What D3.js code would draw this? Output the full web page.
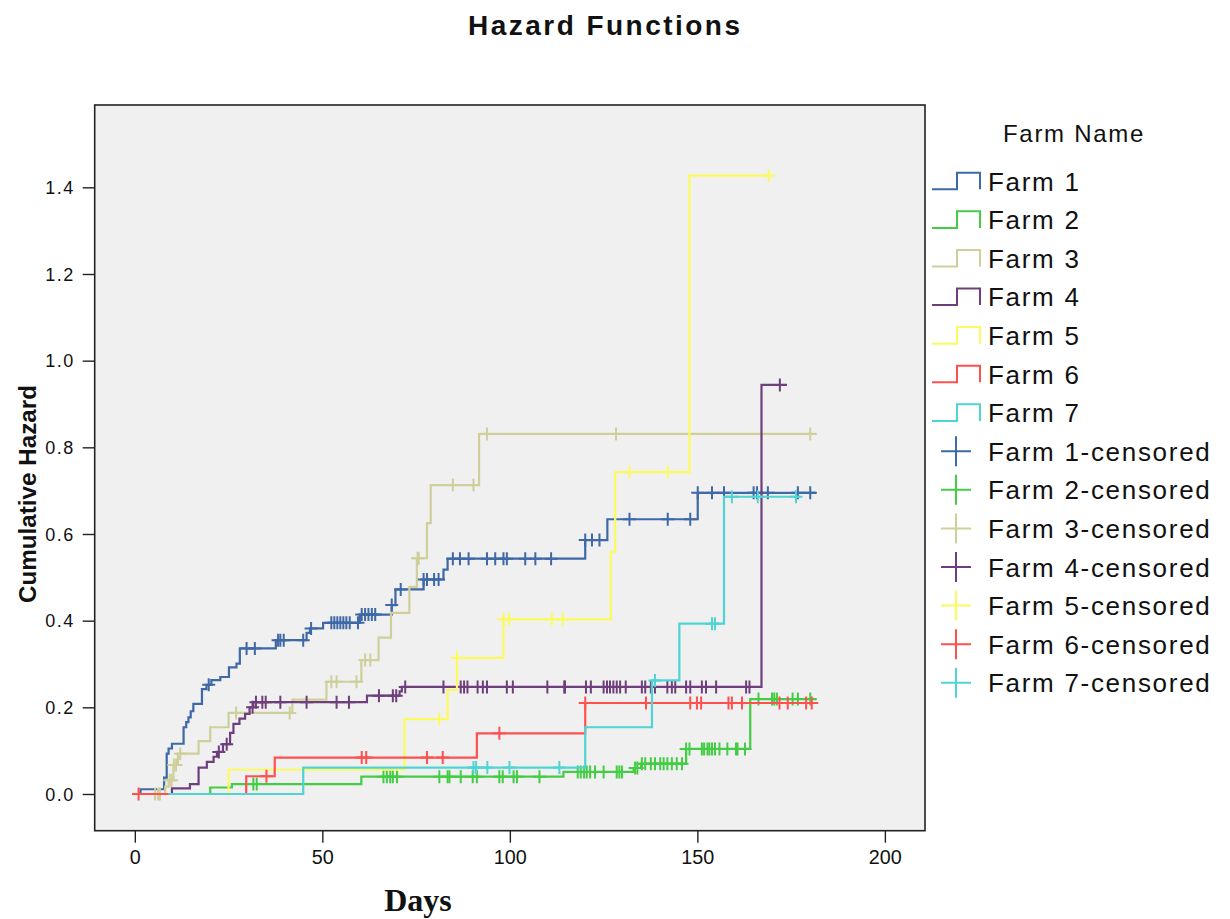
<!DOCTYPE html>
<html>
<head>
<meta charset="utf-8">
<script src="https://cdn.jsdelivr.net/npm/d3@7"></script>
<style>
  html, body { margin: 0; padding: 0; background: #ffffff; }
  svg { display: block; }
  text { font-family: "Liberation Sans", Arial, sans-serif; fill: #111; }
</style>
</head>
<body>
<svg id="chart" width="1230" height="919"></svg>
<script>
// ---------------- data ----------------
const farmNames = ["Farm 1", "Farm 2", "Farm 3", "Farm 4", "Farm 5", "Farm 6", "Farm 7"];
const farmColors = ["#3E68A6", "#44CC44", "#CFCF9C", "#6E3F7C", "#FBFB5E", "#FF5050", "#4FD3D3"];
const xTicks = [0, 50, 100, 150, 200];
const yTicks = [0.0, 0.2, 0.4, 0.6, 0.8, 1.0, 1.2, 1.4];

const startDays = [1.5, 9.0, 4.9, 9.9, 9.0, 1.0, 9.0];
const endDays   = [181.7, 181.7, 181.7, 173.9, 170.0, 180.5, 177.4];

const farm1StepDays   = [1.5, 7.8, 8.5, 9.0, 9.9, 13.0, 13.7, 14.3, 14.9, 15.6, 17.9, 19.1, 20.4, 22.8, 25.1, 27.1, 28.0, 37.6, 45.8, 46.7, 50.2, 60.0, 68.5, 69.5, 77.0, 82.3, 83.4, 120.1, 126.0, 150.1];
const farm1StepHazard = [0.011, 0.038, 0.093, 0.105, 0.116, 0.154, 0.166, 0.177, 0.191, 0.208, 0.242, 0.252, 0.263, 0.270, 0.292, 0.301, 0.336, 0.355, 0.372, 0.382, 0.395, 0.414, 0.436, 0.472, 0.495, 0.518, 0.543, 0.586, 0.634, 0.695];
const farm1Censored   = [19.7, 29.8, 32.0, 38.2, 38.8, 39.7, 44.9, 47.0, 52.4, 53.2, 54.0, 54.8, 55.6, 56.4, 57.3, 59.5, 60.5, 61.4, 62.3, 63.2, 64.1, 68.5, 70.9, 77.0, 77.9, 79.8, 81.0, 84.8, 86.7, 89.0, 93.9, 96.1, 98.3, 99.2, 104.1, 106.8, 111.0, 120.1, 121.9, 123.9, 131.9, 142.1, 148.1, 150.1, 153.9, 157.1, 165.0, 165.9, 168.8, 176.8, 180.1];

const farm2StepDays   = [20.1, 25.9, 60.4, 114.3, 133.0, 135.0, 147.0, 164.1];
const farm2StepHazard = [0.015, 0.023, 0.040, 0.051, 0.060, 0.070, 0.104, 0.219];
const farm2Censored   = [31.6, 32.5, 66.3, 67.2, 68.1, 68.8, 69.9, 81.2, 83.4, 83.9, 86.9, 90.1, 91.2, 97.2, 98.1, 101.0, 101.9, 107.9, 118.1, 118.9, 119.8, 120.5, 121.4, 122.7, 125.0, 128.5, 129.2, 129.9, 133.4, 134.0, 135.2, 136.1, 137.6, 138.7, 140.1, 141.0, 142.0, 143.2, 144.5, 145.9, 147.0, 147.9, 151.2, 151.8, 152.7, 153.2, 153.9, 154.7, 155.9, 158.0, 160.3, 160.7, 162.7, 166.3, 169.9, 170.5, 171.2, 175.4, 176.8, 180.1];

const farm3StepDays   = [8.1, 9.0, 10.3, 11.5, 17.0, 20.1, 25.0, 42.0, 51.1, 60.4, 65.0, 68.3, 73.2, 75.2, 77.9, 78.9, 91.8];
const farm3StepHazard = [0.017, 0.032, 0.067, 0.093, 0.122, 0.154, 0.187, 0.218, 0.259, 0.309, 0.361, 0.418, 0.478, 0.544, 0.625, 0.713, 0.831];
const farm3Censored   = [5.4, 6.2, 6.7, 9.3, 9.8, 10.4, 11.0, 12.1, 27.0, 41.3, 52.4, 53.8, 59.1, 61.4, 62.8, 75.4, 75.7, 84.8, 90.3, 93.9, 128.3, 180.1];

const farm4StepDays   = [9.9, 14.7, 17.0, 19.2, 21.0, 21.9, 23.5, 25.4, 26.3, 27.9, 29.4, 30.6, 31.6, 61.9, 70.6, 71.2, 167.1];
const farm4StepHazard = [0.013, 0.023, 0.061, 0.074, 0.086, 0.097, 0.115, 0.141, 0.162, 0.174, 0.185, 0.200, 0.212, 0.227, 0.237, 0.247, 0.944];
const farm4Censored   = [22.4, 24.5, 31.4, 32.3, 34.0, 34.9, 38.8, 45.8, 53.8, 57.1, 65.1, 68.8, 69.7, 72.1, 82.3, 86.9, 87.8, 88.7, 91.4, 92.8, 93.9, 99.2, 100.8, 110.0, 114.5, 114.7, 120.3, 121.6, 125.0, 125.9, 126.7, 127.6, 128.5, 129.4, 130.9, 135.2, 136.1, 137.6, 138.7, 142.0, 143.2, 144.1, 147.0, 148.1, 151.2, 152.3, 155.0, 163.0, 163.9, 172.0];

const farm5StepDays   = [25.0, 71.9, 83.4, 85.9, 98.3, 126.9, 128.1, 147.9];
const farm5StepHazard = [0.056, 0.173, 0.240, 0.314, 0.403, 0.559, 0.743, 1.427];
const farm5Censored   = [81.2, 85.9, 98.3, 99.8, 111.2, 114.1, 131.9, 142.1, 169.0];

const farm6StepDays   = [29.7, 37.3, 91.2, 120.1];
const farm6StepHazard = [0.041, 0.084, 0.140, 0.210];
const farm6Censored   = [1.0, 35.1, 60.5, 61.7, 77.9, 82.1, 97.2, 120.1, 136.3, 148.1, 149.9, 151.0, 158.3, 159.2, 161.9, 171.9, 174.1, 179.0, 180.5];

const farm7StepDays   = [44.9, 120.1, 137.9, 145.2, 157.1];
const farm7StepHazard = [0.061, 0.154, 0.262, 0.393, 0.686];
const farm7Censored   = [90.3, 91.0, 94.0, 99.9, 113.2, 138.7, 153.9, 154.7, 159.2, 166.1, 176.3];

const stepDays   = [farm1StepDays, farm2StepDays, farm3StepDays, farm4StepDays, farm5StepDays, farm6StepDays, farm7StepDays];
const stepHazard = [farm1StepHazard, farm2StepHazard, farm3StepHazard, farm4StepHazard, farm5StepHazard, farm6StepHazard, farm7StepHazard];
const censored   = [farm1Censored, farm2Censored, farm3Censored, farm4Censored, farm5Censored, farm6Censored, farm7Censored];

// ---------------- layout ----------------
const svg = d3.select("#chart");
const plot = { left: 94.7, right: 925, top: 105, bottom: 830.7 };

const x = d3.scaleLinear().domain([-10.7, 210.7]).range([plot.left, plot.right]);
const y = d3.scaleLinear().domain([-0.0847, 1.590]).range([plot.bottom, plot.top]);

// title
svg.append("text")
  .attr("x", 604).attr("y", 35)
  .attr("text-anchor", "middle")
  .attr("font-size", 28).attr("font-weight", "bold")
  .attr("textLength", 272).attr("lengthAdjust", "spacing")
  .text("Hazard Functions");

// plot background
svg.append("rect")
  .attr("x", plot.left).attr("y", plot.top)
  .attr("width", plot.right - plot.left).attr("height", plot.bottom - plot.top)
  .attr("fill", "#F0F0F0").attr("stroke", "#222").attr("stroke-width", 1.6);

// axes
const yAxis = d3.axisLeft(y).tickValues(yTicks).tickSize(12).tickPadding(8).tickFormat(d3.format(".1f"));
const gy = svg.append("g").attr("transform", `translate(${plot.left},0)`).call(yAxis);
gy.select(".domain").remove();
gy.selectAll(".tick line").attr("stroke", "#222").attr("stroke-width", 1.4);
gy.selectAll(".tick text").attr("font-size", 18).attr("letter-spacing", 1.5)
  .attr("font-family", "Liberation Sans, Arial, sans-serif").attr("fill", "#111").attr("dy", "0.35em");

const xAxis = d3.axisBottom(x).tickValues(xTicks).tickSize(12).tickPadding(7).tickFormat(d3.format("d"));
const gx = svg.append("g").attr("transform", `translate(0,${plot.bottom})`).call(xAxis);
gx.select(".domain").remove();
gx.selectAll(".tick line").attr("stroke", "#222").attr("stroke-width", 1.4);
gx.selectAll(".tick text").attr("font-size", 20)
  .attr("font-family", "Liberation Sans, Arial, sans-serif").attr("fill", "#111")
  .attr("transform", "scale(0.85,1)")
  .attr("x", function(d) { return 0; });
// keep the narrow look but centred on tick: apply scale around tick origin
gx.selectAll(".tick text").attr("transform", null).each(function() {
  const t = d3.select(this);
  const txt = t.text();
  t.attr("textLength", txt.length * 11).attr("lengthAdjust", "spacingAndGlyphs");
});

// axis titles
svg.append("text")
  .attr("transform", "translate(36,494) rotate(-90)")
  .attr("text-anchor", "middle")
  .attr("font-size", 24).attr("font-weight", "bold")
  .attr("textLength", 218).attr("lengthAdjust", "spacingAndGlyphs")
  .text("Cumulative Hazard");

svg.append("text")
  .attr("x", 418).attr("y", 911)
  .attr("text-anchor", "middle")
  .attr("font-size", 32).attr("font-weight", "bold")
  .style("font-family", "'Liberation Serif', 'Times New Roman', serif")
  .text("Days");

// ---------------- curves ----------------
const line = d3.line().x(d => x(d[0])).y(d => y(d[1]));

function hazardAt(i, t) {
  let h = 0;
  const days = stepDays[i], haz = stepHazard[i];
  for (let k = 0; k < days.length; k++) {
    if (days[k] <= t + 1e-9) h = haz[k];
  }
  return h;
}

const plotG = svg.append("g");
farmNames.forEach((name, i) => {
  const pts = [[startDays[i], 0]];
  let prev = 0;
  stepDays[i].forEach((d, k) => {
    pts.push([d, prev]);
    pts.push([d, stepHazard[i][k]]);
    prev = stepHazard[i][k];
  });
  pts.push([endDays[i], prev]);

  plotG.append("path")
    .attr("d", line(pts))
    .attr("fill", "none")
    .attr("stroke", farmColors[i])
    .attr("stroke-width", 2.2);

  const marks = plotG.append("g");
  censored[i].forEach(t => {
    const cx = x(t), cy = y(hazardAt(i, t));
    marks.append("path")
      .attr("d", `M${cx - 6.5},${cy}H${cx + 6.5}M${cx},${cy - 6.5}V${cy + 6.5}`)
      .attr("stroke", farmColors[i]).attr("stroke-width", 2).attr("fill", "none");
  });
});

// ---------------- legend ----------------
const legend = svg.append("g");
legend.append("text")
  .attr("x", 1003).attr("y", 142)
  .attr("font-size", 24).attr("letter-spacing", 1.7)
  .text("Farm Name");

const rowStart = 181, rowGap = 38.6;
farmNames.forEach((name, i) => {
  const c = rowStart + i * rowGap;
  legend.append("path")
    .attr("d", `M932,${c + 8.3}H957V${c - 8.3}H980V${c + 8.3}`)
    .attr("fill", "none").attr("stroke", farmColors[i]).attr("stroke-width", 2);
  legend.append("text")
    .attr("x", 988).attr("y", c + 9.5)
    .attr("font-size", 26).attr("letter-spacing", 1.7)
    .text(name);
});
farmNames.forEach((name, i) => {
  const c = rowStart + (i + 7) * rowGap;
  legend.append("path")
    .attr("d", `M941,${c}H971M956,${c - 15}V${c + 15}`)
    .attr("fill", "none").attr("stroke", farmColors[i]).attr("stroke-width", 2);
  legend.append("text")
    .attr("x", 988).attr("y", c + 9.5)
    .attr("font-size", 26).attr("letter-spacing", 1.7)
    .text(name + "-censored");
});
</script>
</body>
</html>
